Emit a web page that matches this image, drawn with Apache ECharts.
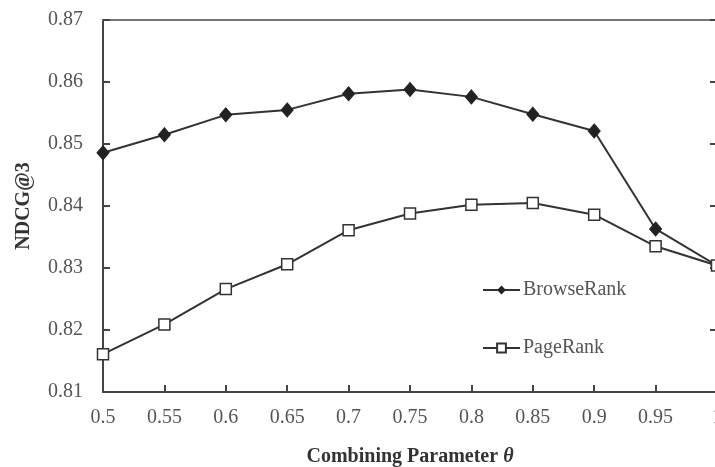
<!DOCTYPE html>
<html>
<head>
<meta charset="utf-8">
<script src="https://cdn.jsdelivr.net/npm/echarts@6/dist/echarts.min.js"></script>
<style>html,body{margin:0;padding:0;background:#fff;}#c{width:715px;height:467px;}</style>
</head>
<body>
<div id="c"></div>
<script>
var xLabels = ['0.5','0.55','0.6','0.65','0.7','0.75','0.8','0.85','0.9','0.95','1'];
var browseRank = [0.8486,0.8515,0.8547,0.8555,0.8581,0.8588,0.8576,0.8548,0.8521,0.8363,0.8304];
var pageRank = [0.8161,0.8209,0.8266,0.8306,0.8361,0.8388,0.8402,0.8405,0.8386,0.8335,0.8304];
var yTicks = {min:0.81, max:0.87, step:0.01};

var serif = '"Liberation Serif","DejaVu Serif",serif';
var chart = echarts.init(document.getElementById('c'));
chart.setOption({
  animation:false,
  backgroundColor:'#fff',
  grid:{left:103, top:20, width:614, height:372, containLabel:false, outerBoundsMode:'none'},
  legend:{
    orient:'vertical', left:477, top:275, itemGap:38, itemWidth:37, itemHeight:11,
    textStyle:{fontFamily:serif, fontSize:20, color:'#555', padding:[0,0,0,-2]},
    data:['BrowseRank','PageRank']
  },
  xAxis:[{
    type:'category', data:xLabels, boundaryGap:false,
    name:'Combining Parameter {i|\u03b8}', nameLocation:'middle', nameGap:55,
    nameTextStyle:{fontFamily:serif, fontSize:20, fontWeight:'bold', color:'#333',
      rich:{i:{fontFamily:serif, fontSize:20, fontWeight:'bold', fontStyle:'italic', color:'#333'}}},
    axisLine:{lineStyle:{color:'#444', width:2}},
    axisTick:{inside:true, length:7, lineStyle:{color:'#444', width:2}},
    axisLabel:{fontFamily:serif, fontSize:20, color:'#555', margin:16},
    splitLine:{show:false}
  },{
    type:'category', data:xLabels, boundaryGap:false, position:'top',
    axisLine:{lineStyle:{color:'#777', width:2}},
    axisTick:{show:false}, axisLabel:{show:false}
  }],
  yAxis:[{
    type:'value', min:yTicks.min, max:yTicks.max, interval:yTicks.step,
    name:'NDCG@3', nameLocation:'middle', nameGap:69, nameRotate:90,
    nameTextStyle:{fontFamily:serif, fontSize:20, fontWeight:'bold', color:'#333'},
    axisLine:{show:true, lineStyle:{color:'#444', width:2}},
    axisTick:{show:true, inside:true, length:7, lineStyle:{color:'#444', width:2}},
    axisLabel:{fontFamily:serif, fontSize:20, color:'#555', margin:20,
      formatter:function(v){return v.toFixed(2);}},
    splitLine:{show:false}
  },{
    type:'value', min:yTicks.min, max:yTicks.max, interval:yTicks.step, position:'right',
    axisLine:{show:true, lineStyle:{color:'#444', width:2}},
    axisTick:{show:true, inside:true, length:7, lineStyle:{color:'#444', width:2}},
    axisLabel:{show:false}, splitLine:{show:false}
  }],
  series:[{
    name:'BrowseRank', type:'line', data:browseRank,
    symbol:'diamond', symbolSize:[12,14],
    lineStyle:{color:'#333', width:2},
    itemStyle:{color:'#222', borderColor:'#222'}
  },{
    name:'PageRank', type:'line', data:pageRank,
    symbol:'rect', symbolSize:11,
    lineStyle:{color:'#333', width:2},
    itemStyle:{color:'#fff', borderColor:'#333', borderWidth:1.5}
  }]
});
</script>
</body>
</html>
